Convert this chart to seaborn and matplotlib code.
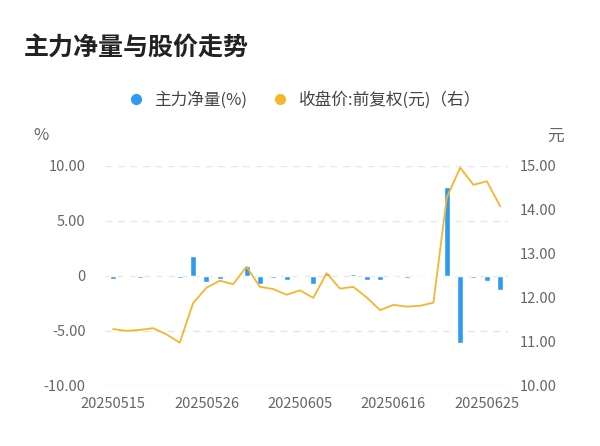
import matplotlib
matplotlib.use("Agg")
import matplotlib.pyplot as plt
import seaborn as sns
import numpy as np
import pandas as pd
from matplotlib.lines import Line2D

sns.set_theme(style="white")
plt.rcParams['font.family'] = ['Noto Sans CJK SC', 'DejaVu Sans']

dates = ["20250515","20250516","20250519","20250520","20250521","20250522","20250523",
         "20250526","20250527","20250528","20250529","20250530","20250603","20250604",
         "20250605","20250606","20250609","20250610","20250611","20250612","20250613",
         "20250616","20250617","20250618","20250619","20250620","20250623","20250624",
         "20250625","20250626"]
flow = [-0.3,-0.1,-0.2,0.05,-0.05,-0.2,1.8,-0.6,-0.3,0.1,0.9,-0.7,-0.2,-0.4,-0.1,-0.7,0.3,
        -0.1,0.15,-0.4,-0.4,-0.1,-0.2,-0.1,0.1,8.1,-6.1,-0.2,-0.5,-1.3]
price = [11.29,11.25,11.27,11.31,11.17,10.98,11.88,12.23,12.39,12.31,12.71,12.25,12.20,
         12.07,12.17,12.00,12.56,12.21,12.25,12.01,11.72,11.84,11.80,11.82,11.89,14.28,
         14.96,14.57,14.65,14.08]
ticks = ["20250515","20250526","20250605","20250616","20250625"]

df = pd.DataFrame({"date": dates, "flow": flow, "price": price, "i": range(len(dates))})

fig = plt.figure(figsize=(6, 4.46), dpi=100)
ax = fig.add_axes([0.175, 0.135, 0.672, 0.493])
ax.bar(df["i"], df["flow"], width=0.45, color="#2e9bf0")
ax.set_ylim(-10, 10)
ax.set_yticks([-10,-5,0,5,10])
ax.set_yticklabels(["-10.00","-5.00","0","5.00","10.00"])
ax.set_xlim(-0.6, 29.6)
ax.set_xticks([dates.index(t) for t in ticks])
ax.set_xticklabels(ticks)
for v in [-5,0,5,10]:
    ax.axhline(v, color="#e6e6e6", ls=(0,(5,4)), lw=1, zorder=0)
ax.axhline(-10, color="#e6e6e6", lw=1, zorder=0)
for s in ax.spines.values():
    s.set_visible(False)
ax.tick_params(length=0, labelsize=10.5, colors="#666666")
ax.tick_params(axis="y", pad=14)
ax.tick_params(axis="x", pad=8)

ax2 = ax.twinx()
sns.lineplot(data=df, x="i", y="price", ax=ax2, color="#f7b52c", lw=1.3)
ax2.set_ylim(10, 15)
ax2.set_yticks([10,11,12,13,14,15])
ax2.set_yticklabels(["10.00","11.00","12.00","13.00","14.00","15.00"])
ax2.set_xlabel(""); ax2.set_ylabel("")
for s in ax2.spines.values():
    s.set_visible(False)
ax2.tick_params(length=0, labelsize=10.5, colors="#666666", pad=8)

fig.text(0.04, 0.875, "主力净量与股价走势", fontsize=18, fontweight="bold", color="#222222")
fig.text(0.055, 0.685, "%", fontsize=12, color="#666666")
fig.text(0.912, 0.685, "元", fontsize=12, color="#666666")
handles = [Line2D([],[],marker="o",ls="",color="#2e9bf0",markersize=7),
           Line2D([],[],marker="o",ls="",color="#f7b52c",markersize=7)]
fig.legend(handles, ["主力净量(%)","收盘价:前复权(元)（右）"], loc="center",
           bbox_to_anchor=(0.5, 0.775), ncol=2, frameon=False, fontsize=12,
           handletextpad=0.1, columnspacing=1.0, labelcolor="#444444")
fig.savefig("out.png", dpi=100)
